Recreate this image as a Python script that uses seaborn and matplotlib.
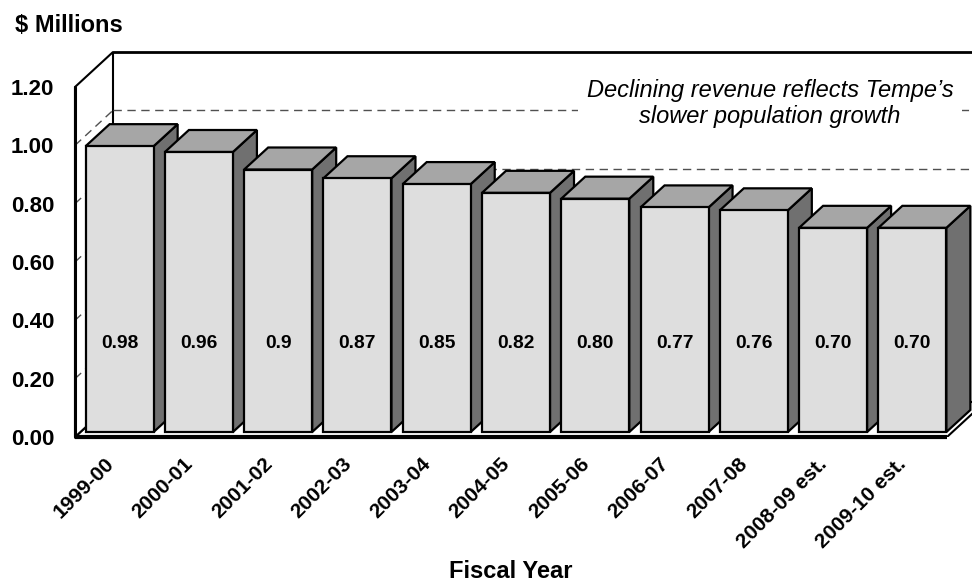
import matplotlib
matplotlib.use("Agg")
import matplotlib.pyplot as plt
from matplotlib.patches import Polygon
import pandas as pd
import seaborn as sns

# Fiscal years and revenue ($ millions)
years = ["1999-00", "2000-01", "2001-02", "2002-03", "2003-04", "2004-05",
         "2005-06", "2006-07", "2007-08", "2008-09 est.", "2009-10 est."]
revenue = [0.98, 0.96, 0.90, 0.87, 0.85, 0.82, 0.80, 0.77, 0.76, 0.70, 0.70]
value_labels = ["0.98", "0.96", "0.9", "0.87", "0.85", "0.82", "0.80",
                "0.77", "0.76", "0.70", "0.70"]
y_ticks = [0.0, 0.2, 0.4, 0.6, 0.8, 1.0, 1.2]
y_tick_labels = ["0.00", "0.20", "0.40", "0.60", "0.80", "1.00", "1.20"]
note = "Declining revenue reflects Tempe\u2019s\nslower population growth"

sns.set_style("white")
plt.rcParams["font.family"] = ["Liberation Sans", "DejaVu Sans"]
plt.rcParams["text.color"] = "black"
plt.rcParams["xtick.color"] = "black"
plt.rcParams["ytick.color"] = "black"

W, H, DPI = 972, 583, 100
fig = plt.figure(figsize=(W / DPI, H / DPI), dpi=DPI)

# front plane of the plot box (pixels)
X0, X1, Y0, Y1 = 75, 972, 437, 50
FLOOR_RIGHT = 947
ax = fig.add_axes([X0 / W, 1 - Y0 / H, (X1 - X0) / W, (Y0 - Y1) / H])

df = pd.DataFrame({"year": years, "revenue": revenue})
sns.barplot(data=df, x="year", y="revenue", color="#DEDEDE", saturation=1,
            width=0.858, edgecolor="black", linewidth=1.6, errorbar=None, ax=ax)

slot_px = (FLOOR_RIGHT - X0) / len(years)
val_px = (Y0 - 87) / 1.2
xmin = -0.5
xmax = xmin + (X1 - X0) / slot_px
ax.set_xlim(xmin, xmax)
ax.set_ylim(0, (Y0 - Y1) / val_px)
xfront_right = xmin + len(years)


def depth(px, py):
    """Convert a pixel depth offset into data units."""
    return px / slot_px, py / val_px


wx, wy = depth(38, 35)      # full depth of the box
fx, fy = depth(5, 5)        # bars sit slightly behind the front plane
bx, by = depth(24, 22)      # bar depth

ymax_box = 1.2
grid_kw = dict(color="#505050", lw=1.0, dashes=(6, 4), zorder=1.5, clip_on=False)

# floor
floor = Polygon([(xmin, 0), (xfront_right, 0), (xfront_right + wx, wy), (xmin + wx, wy)],
                closed=True, facecolor="white", edgecolor="black", lw=1.5, zorder=1)
ax.add_patch(floor)
# left wall
wall = Polygon([(xmin, 0), (xmin, ymax_box), (xmin + wx, ymax_box + wy), (xmin + wx, wy)],
               closed=True, facecolor="white", edgecolor="black", lw=1.5, zorder=1,
               clip_on=False)
ax.add_patch(wall)

# gridlines on left wall and back wall
for v in y_ticks[1:-1]:
    ax.plot([xmin, xmin + wx], [v, v + wy], **grid_kw)
    ax.plot([xmin + wx, xmax], [v + wy, v + wy], **grid_kw)

# back wall top edge and front edges
ax.plot([xmin + wx, xmax], [ymax_box + wy, ymax_box + wy], color="black", lw=2,
        zorder=2, clip_on=False)
ax.plot([xmin, xmin], [0, ymax_box], color="black", lw=2.2, zorder=2, clip_on=False)
ax.plot([xmin, xfront_right], [0, 0], color="black", lw=3, zorder=2, clip_on=False,
        solid_capstyle="butt")

# 3D faces for each bar
for i, (patch, v, lab) in enumerate(zip(ax.patches[:len(years)], revenue, value_labels)):
    z = 3 + i * 0.1
    patch.set_x(patch.get_x() + fx)
    patch.set_y(fy)
    patch.set_zorder(z + 0.05)
    xl = patch.get_x()
    xr = xl + patch.get_width()
    top = fy + v
    side = Polygon([(xr, fy), (xr, top), (xr + bx, top + by), (xr + bx, fy + by)],
                   closed=True, facecolor="#707070", edgecolor="black", lw=1.6,
                   joinstyle="miter", zorder=z)
    lid = Polygon([(xl, top), (xr, top), (xr + bx, top + by), (xl + bx, top + by)],
                  closed=True, facecolor="#A6A6A6", edgecolor="black", lw=1.6,
                  joinstyle="miter", zorder=z)
    ax.add_patch(side)
    ax.add_patch(lid)
    ax.text((xl + xr) / 2, 0.32, lab, ha="center", va="center",
            fontsize=13.8, fontweight="bold", zorder=10)

for s in ax.spines.values():
    s.set_visible(False)

ax.set_yticks(y_ticks, y_tick_labels)
ax.tick_params(axis="y", length=0, pad=15, labelsize=16)
for t in ax.get_yticklabels():
    t.set_fontweight("bold")

ax.set_xticks(range(len(years)), years)
ax.tick_params(axis="x", length=0, pad=20, labelsize=15)
for t in ax.get_xticklabels():
    t.set_rotation(45)
    t.set_ha("right")
    t.set_va("baseline")
    t.set_rotation_mode("anchor")
    t.set_fontweight("bold")

ax.set_xlabel("")
ax.set_ylabel("")
ax.set_facecolor("none")

fig.text(15 / W, 1 - 26 / H, "$ Millions", ha="left", va="center",
         fontsize=17, fontweight="bold")
fig.text(511 / W, 1 - 571 / H, "Fiscal Year", ha="center", va="center",
         fontsize=17, fontweight="bold")
fig.text(770 / W, 1 - 103.5 / H, note, ha="center", va="center", fontsize=17,
         style="italic", linespacing=1.15,
         bbox=dict(facecolor="white", edgecolor="none", boxstyle="square,pad=0.35"))

fig.savefig("out.png", dpi=DPI)
